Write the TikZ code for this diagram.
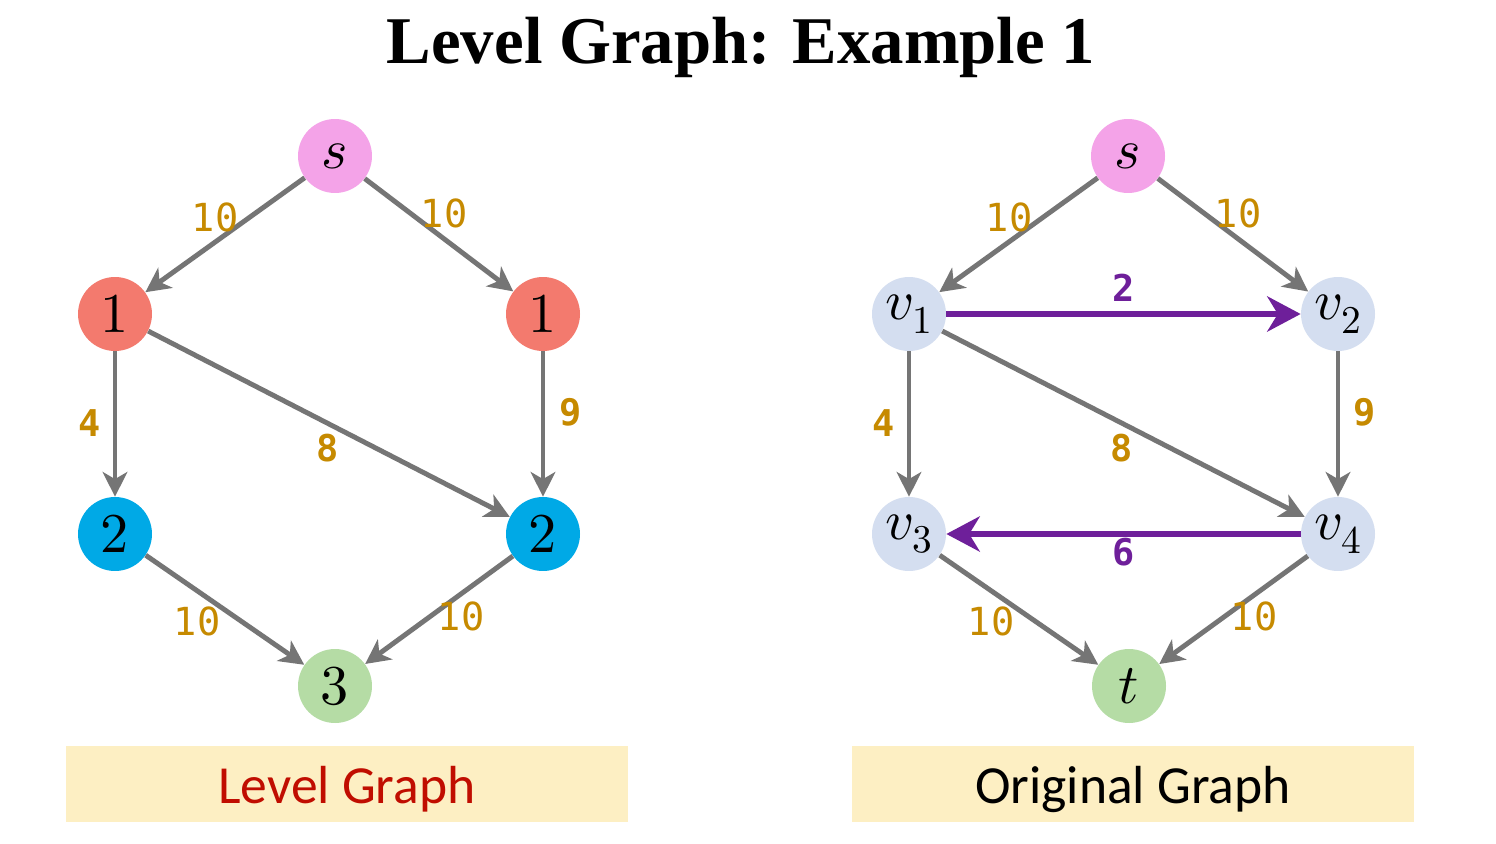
\documentclass[tikz,border=0pt]{standalone}
\usepackage{fontspec}
\setmainfont{Liberation Serif}
\newfontfamily\labfont{DejaVu Sans Mono}
\newfontfamily\boxfont{Carlito}
\usepackage{unicode-math}
\setmathfont{Latin Modern Math}
\usetikzlibrary{arrows.meta}
\definecolor{cpink}{HTML}{F4A3E8}
\definecolor{cred}{HTML}{F37A6E}
\definecolor{cblue}{HTML}{00A9E6}
\definecolor{cgreen}{HTML}{B5DCA5}
\definecolor{clight}{HTML}{D4DEF0}
\definecolor{cgray}{HTML}{757575}
\definecolor{cpurple}{HTML}{6E1F9A}
\definecolor{cgold}{HTML}{C68A00}
\definecolor{cbox}{HTML}{FDEFC3}
\definecolor{ctext}{HTML}{C00D00}
\tikzset{
  vert/.style={circle,minimum size=1.48cm,inner sep=0pt,font=\fontsize{32}{32}\selectfont},
  gedge/.style={draw=cgray,line width=2.8pt,-{Stealth[length=14pt,width=14pt,inset=4pt]}},
  pedge/.style={draw=cpurple,line width=3.4pt,-{Stealth[length=19pt,width=20pt,inset=6pt]}},
  wlab/.style={text=cgold,font=\labfont\fontsize{22}{22}\selectfont,inner sep=0pt},
  plab/.style={text=cpurple,font=\labfont\bfseries\fontsize{21}{21}\selectfont,inner sep=0pt},
  capbox/.style={fill=cbox,minimum width=11.24cm,minimum height=1.52cm,inner sep=0pt},
  captext/.style={inner sep=0pt,font=\boxfont\fontsize{30.5}{30.5}\selectfont},
}
\begin{document}
\begin{tikzpicture}[x=0.02cm,y=-0.02cm]
\useasboundingbox[fill=white] (0,0) rectangle (1496,844);
\node[font=\bfseries\fontsize{38}{42}\selectfont,inner sep=0pt] (title) at (741,47) {Level Graph: Example 1};
% left graph
\node[vert,fill=cpink] (ls) at (335,156) {$s$};
\node[vert,fill=cred] (la) at (115,314) {$1$};
\node[vert,fill=cred] (lb) at (543,314) {$1$};
\node[vert,fill=cblue] (lc) at (115,534) {$2$};
\node[vert,fill=cblue] (ld) at (543,534) {$2$};
\node[vert,fill=cgreen] (lt) at (335,686) {$3$};
\draw[gedge] (ls) -- (la);
\draw[gedge] (ls) -- (lb);
\draw[gedge] (la) -- (lc);
\draw[gedge] (la) -- (ld);
\draw[gedge] (lb) -- (ld);
\draw[gedge] (lc) -- (lt);
\draw[gedge] (ld) -- (lt);
\node[wlab] (lw1) at (215,217) {10};
\node[wlab] (lw2) at (444,213) {10};
\node[wlab,font=\labfont\bfseries\fontsize{21}{21}\selectfont] (lw3) at (90,423) {4};
\node[wlab,font=\labfont\bfseries\fontsize{21}{21}\selectfont] (lw4) at (328,448) {8};
\node[wlab,font=\labfont\bfseries\fontsize{21}{21}\selectfont] (lw5) at (571,412) {9};
\node[wlab] (lw6) at (197,621) {10};
\node[wlab] (lw7) at (461,616) {10};
% right graph
\node[vert,fill=cpink] (rs) at (1128,156) {$s$};
\node[vert,fill=clight] (v1) at (909,314) {$v_1$};
\node[vert,fill=clight] (v2) at (1338,314) {$v_2$};
\node[vert,fill=clight] (v3) at (909,534) {$v_3$};
\node[vert,fill=clight] (v4) at (1338,534) {$v_4$};
\node[vert,fill=cgreen] (rt) at (1129,686) {$t$};
\draw[gedge] (rs) -- (v1);
\draw[gedge] (rs) -- (v2);
\draw[gedge] (v1) -- (v3);
\draw[gedge] (v1) -- (v4);
\draw[gedge] (v2) -- (v4);
\draw[gedge] (v3) -- (rt);
\draw[gedge] (v4) -- (rt);
\draw[pedge] (v1) -- (v2);
\draw[pedge] (v4) -- (v3);
\node[wlab] (rw1) at (1009,217) {10};
\node[wlab] (rw2) at (1238,213) {10};
\node[plab] (rw3) at (1124,288) {2};
\node[wlab,font=\labfont\bfseries\fontsize{21}{21}\selectfont] (rw4) at (884,423) {4};
\node[wlab,font=\labfont\bfseries\fontsize{21}{21}\selectfont] (rw5) at (1122,448) {8};
\node[wlab,font=\labfont\bfseries\fontsize{21}{21}\selectfont] (rw6) at (1365,412) {9};
\node[plab] (rw7) at (1124,552) {6};
\node[wlab] (rw8) at (991,621) {10};
\node[wlab] (rw9) at (1254,616) {10};
% captions
\node[capbox] (cap1) at (347,784) {};
\node[captext,text=ctext] (cap1t) at ([yshift=-0.1cm]cap1.center) {Level Graph};
\node[capbox] (cap2) at (1133,784) {};
\node[captext,text=black] (cap2t) at ([yshift=-0.1cm]cap2.center) {Original Graph};
\end{tikzpicture}
\end{document}
